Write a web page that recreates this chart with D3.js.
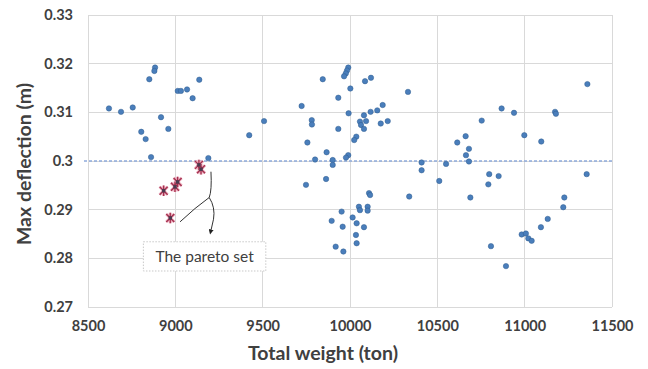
<!DOCTYPE html>
<html><head><meta charset="utf-8">
<script src="https://cdn.jsdelivr.net/npm/d3@7"></script>
<style>
html,body{margin:0;padding:0;background:#fff;}
svg{display:block;font-family:Lato,"Open Sans",sans-serif;}
</style></head>
<body><svg id="c" width="648" height="369"></svg>
<script>
// Blue design points: total weight (ton) and max deflection (m)
const weights = [8884,8880,8851,9014,9032,9067,9137,9099,8620,8689,8756,8918,8960,8805,8830,8861,9189,9423,9508,
 9990,9983,9976,9966,9844,10002,10086,10120,10332,9933,9723,9992,10118,10156,10187,10080,9781,9782,10057,10063,10092,10080,10176,10216,9933,10036,10024,9756,9866,9990,9977,9800,9901,9901,9748,9863,10109,10115,10339,10051,10057,10101,10101,9952,10015,9895,10038,9958,10080,10034,10038,9918,9962,
 11359,10868,10939,11174,11179,10754,10998,11095,10662,10614,10681,10664,10681,10550,10410,10410,10511,10797,10851,10792,11355,10689,11227,11221,11132,11093,10983,11007,11021,11040,10807,10893];
const deflections = [0.3192,0.3185,0.3168,0.3144,0.3144,0.3147,0.3167,0.3129,0.3108,0.3101,0.3110,0.3090,0.3066,0.3060,0.3045,0.3008,0.3006,0.3053,0.3082,
 0.3192,0.3186,0.3180,0.3174,0.3168,0.3149,0.3164,0.3171,0.3142,0.3130,0.3113,0.3098,0.3101,0.3104,0.3115,0.3094,0.3084,0.3075,0.3081,0.3074,0.3082,0.3066,0.3077,0.3082,0.3066,0.3050,0.3043,0.3038,0.3018,0.3012,0.3007,0.3003,0.3002,0.2992,0.2951,0.2963,0.2934,0.2930,0.2927,0.2906,0.2899,0.2906,0.2898,0.2896,0.2884,0.2877,0.2872,0.2865,0.2864,0.2848,0.2831,0.2824,0.2814,
 0.3158,0.3108,0.3099,0.3101,0.3097,0.3083,0.3053,0.3040,0.3051,0.3038,0.3025,0.3012,0.2999,0.2994,0.2997,0.2981,0.2959,0.2973,0.2969,0.2952,0.2973,0.2925,0.2925,0.2905,0.2881,0.2864,0.2849,0.2851,0.2841,0.2836,0.2825,0.2784];
// Pareto set
const paretoWeights = [9135,9147,9013,8998,8933,8971];
const paretoDeflections = [0.2992,0.2983,0.2957,0.2947,0.2939,0.2883];
// Axis ticks
const xTicks = [8500,9000,9500,10000,10500,11000,11500];
const yTicks = [0.27,0.28,0.29,0.30,0.31,0.32,0.33];
const yTickLabels = ["0.27","0.28","0.29","0.3","0.31","0.32","0.33"];
const refLine = 0.30;
// Annotation (data units)
const annotText = "The pareto set";
const braceTop = [9204,0.2978], braceJoin = [9194,0.2925], braceLeft = [9027,0.2875], braceBulge=[9230,0.2905], arrowEnd = [9202,0.2850];
const boxX = [8817,9518], boxY = [0.2834,0.2774];

const svg = d3.select("#c");
const m = {l:88, r:612, t:15, b:307};
const x = d3.scaleLinear().domain([8500,11500]).range([m.l,m.r]);
const y = d3.scaleLinear().domain([0.27,0.33]).range([m.b,m.t]);

// grid
const g = svg.append("g");
g.selectAll("line.h").data(yTicks).join("line")
  .attr("x1",m.l).attr("x2",m.r).attr("y1",d=>y(d)).attr("y2",d=>y(d))
  .attr("stroke","#d9d9d9").attr("stroke-width",1).attr("shape-rendering","crispEdges");
g.selectAll("line.v").data(xTicks).join("line")
  .attr("y1",m.t).attr("y2",m.b).attr("x1",d=>x(d)).attr("x2",d=>x(d))
  .attr("stroke","#d9d9d9").attr("stroke-width",1).attr("shape-rendering","crispEdges");
// reference dashed line
svg.append("line").attr("x1",m.l-4).attr("x2",m.r).attr("y1",y(refLine)).attr("y2",y(refLine))
  .attr("stroke","#8eaadb").attr("stroke-width",1.3).attr("stroke-dasharray","3,2");

// axes labels
const xAxis = d3.axisBottom(x).tickValues(xTicks).tickSize(0).tickPadding(14).tickFormat(d3.format("d"));
const ax = svg.append("g").attr("transform",`translate(0,${m.b})`).call(xAxis);
const yAxis = d3.axisLeft(y).tickValues(yTicks).tickSize(0).tickPadding(15).tickFormat((d,i)=>yTickLabels[i]);
const ay = svg.append("g").attr("transform",`translate(${m.l},0)`).call(yAxis);
[ax,ay].forEach(a=>{a.select(".domain").remove();
  a.selectAll("text").attr("font-family","Lato, sans-serif").attr("font-weight","bold").attr("font-size",14.5).attr("fill","#404040");});

svg.append("text").attr("x",323).attr("y",360).attr("text-anchor","middle")
  .attr("font-weight","bold").attr("font-size",19.5).attr("fill","#404040").text("Total weight (ton)");
svg.append("text").attr("transform","translate(31,164) rotate(-90)").attr("text-anchor","middle")
  .attr("font-weight","bold").attr("font-size",19.5).attr("fill","#404040").text("Max deflection (m)");

// points
const pts = weights.map((w,i)=>[w,deflections[i]]);
svg.append("g").selectAll("circle").data(pts).join("circle")
  .attr("cx",d=>x(d[0])).attr("cy",d=>y(d[1])).attr("r",2.7)
  .attr("fill","#4a7ebb").attr("stroke","#2f5c8f").attr("stroke-width",0.5);

// pareto stars
const star = (r)=>`M${-r},${-r}L${r},${r}M${-r},${r}L${r},${-r}M0,${-r*1.3}L0,${r*1.3}`;
const pp = paretoWeights.map((w,i)=>[w,paretoDeflections[i]]);
const sg = svg.append("g");
sg.selectAll("path.halo").data(pp).join("path").attr("class","halo")
  .attr("transform",d=>`translate(${x(d[0])},${y(d[1])})`).attr("d",star(4))
  .attr("stroke","#ecaabb").attr("stroke-width",3).attr("fill","none");
sg.selectAll("path.s").data(pp).join("path").attr("class","s")
  .attr("transform",d=>`translate(${x(d[0])},${y(d[1])})`).attr("d",star(4))
  .attr("stroke","#a3304f").attr("stroke-width",1.3).attr("fill","none");
sg.selectAll("rect").data(pp).join("rect")
  .attr("x",d=>x(d[0])-1.7).attr("y",d=>y(d[1])-1.7).attr("width",3.4).attr("height",3.4).attr("fill","#4a3c50");

// annotation
const P = p=>[x(p[0]),y(p[1])];
const [tx,ty]=P(braceTop),[jx,jy]=P(braceJoin),[lx,ly]=P(braceLeft),[bx,by]=P(braceBulge),[ex,ey]=P(arrowEnd);
svg.append("defs").append("marker").attr("id","ah").attr("viewBox","0 0 10 10").attr("refX",5).attr("refY",5)
  .attr("markerWidth",5).attr("markerHeight",5).attr("orient","auto")
  .append("path").attr("d","M0,0L10,5L0,10Z").attr("fill","#222");
svg.append("path").attr("d",`M${tx},${ty}Q${tx+1},${(ty+jy)/2+6} ${jx},${jy}Q${jx-14},${jy+10} ${lx},${ly}`)
  .attr("fill","none").attr("stroke","#333").attr("stroke-width",1);
svg.append("path").attr("d",`M${jx},${jy}Q${bx},${by} ${bx-2},${by+12}L${ex},${ey-2}`)
  .attr("fill","none").attr("stroke","#333").attr("stroke-width",1).attr("marker-end","url(#ah)");

const [b0x,b0y]=P([boxX[0],boxY[0]]),[b1x,b1y]=P([boxX[1],boxY[1]]);
svg.append("rect").attr("x",b0x).attr("y",b0y).attr("width",b1x-b0x).attr("height",b1y-b0y)
  .attr("fill","#fff").attr("stroke","#c8c8c8").attr("stroke-width",1).attr("stroke-dasharray","1.5,1.5");
svg.append("text").attr("x",(b0x+b1x)/2).attr("y",(b0y+b1y)/2+5.5).attr("text-anchor","middle")
  .attr("font-size",15.5).attr("fill","#404040").text(annotText);
</script></body></html>
